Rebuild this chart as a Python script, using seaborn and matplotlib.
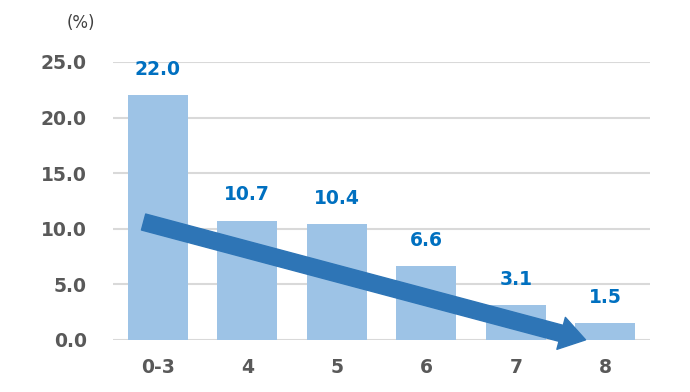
import matplotlib
matplotlib.use("Agg")
import matplotlib.pyplot as plt
import seaborn as sns
import pandas as pd
from matplotlib.ticker import FormatStrFormatter

categories = ["0-3", "4", "5", "6", "7", "8"]
values = [22.0, 10.7, 10.4, 6.6, 3.1, 1.5]
y_ticks = [0, 5, 10, 15, 20, 25]

# trend arrow (data coords, x in category index units)
arrow_start = (-0.16, 10.6)
arrow_end = (4.78, 0.0)

sns.set_style("white")
plt.rcParams["font.family"] = ["DejaVu Sans"]

df = pd.DataFrame({"cat": categories, "val": values})

fig = plt.figure(figsize=(6.9, 3.92), dpi=100)
ax = fig.add_axes([0.164, 0.133, 0.778, 0.709])

sns.barplot(data=df, x="cat", y="val", color="#9DC3E6", saturation=1,
            width=0.67, linewidth=0, ax=ax, zorder=2)

ax.set_ylim(0, 25)
ax.set_xlim(-0.5, len(categories) - 0.5)
ax.set_yticks(y_ticks)
ax.yaxis.set_major_formatter(FormatStrFormatter("%.1f"))
ax.grid(axis="y", color="#D9D9D9", linewidth=1.5, zorder=0)
ax.set_axisbelow(True)
for s in ax.spines.values():
    s.set_visible(False)
ax.tick_params(length=0, labelsize=13.5, labelcolor="#595959")
ax.tick_params(axis="y", pad=19)
ax.tick_params(axis="x", pad=13)
for lab in ax.get_xticklabels() + ax.get_yticklabels():
    lab.set_fontweight("bold")
ax.set_xlabel("")
ax.set_ylabel("")

for i, v in enumerate(values):
    ax.annotate(f"{v:.1f}", (i, v), xytext=(0, 12), textcoords="offset points",
                ha="center", va="bottom", color="#0070C0", fontsize=13.5,
                fontweight="bold")

ax.annotate("", xy=arrow_end, xytext=arrow_start,
            arrowprops=dict(arrowstyle="simple,head_length=1.3,head_width=1.7,tail_width=0.85",
                            color="#2E75B6", mutation_scale=14, shrinkA=0, shrinkB=0),
            zorder=3, annotation_clip=False)

fig.text(81 / 690, 1 - 23 / 392, "(%)", ha="center", va="center",
         fontsize=12, color="#404040")

fig.savefig("out.png", dpi=100)
